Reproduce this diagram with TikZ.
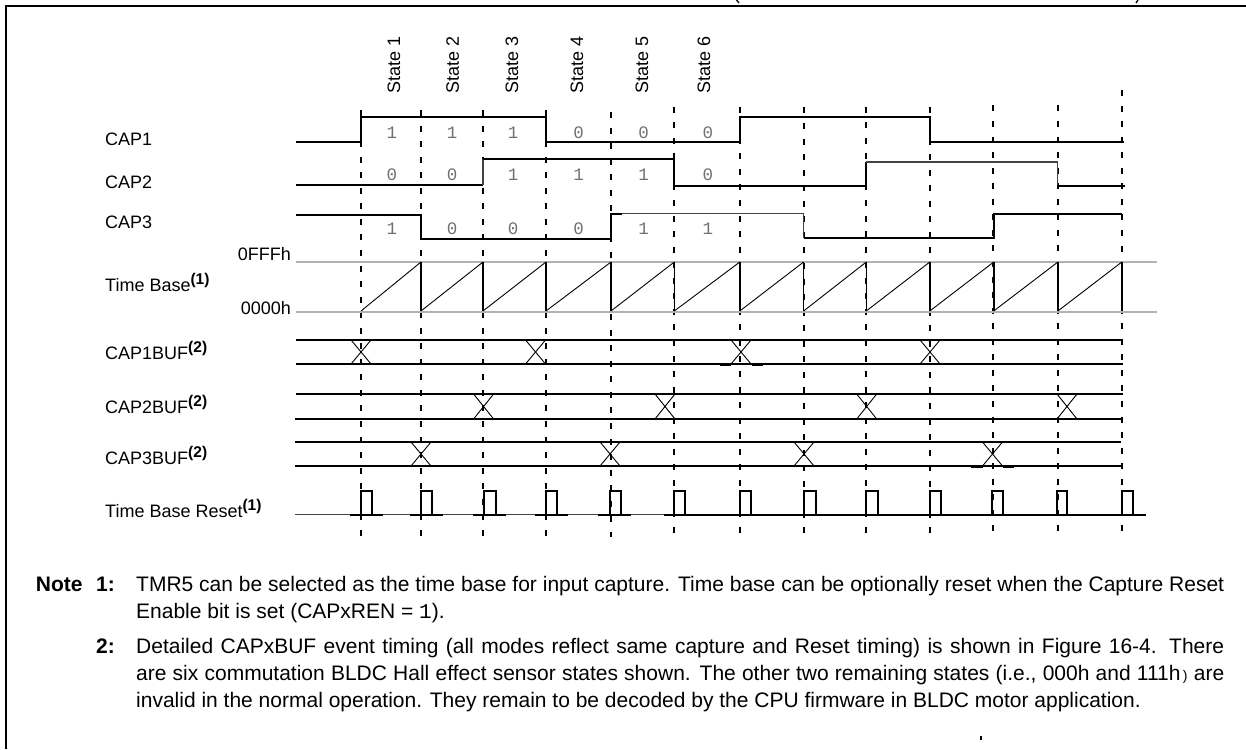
\documentclass[tikz,border=0pt]{standalone}
\usepackage{fontspec}
\setmainfont{Liberation Sans}
\newfontfamily\digitfont{Liberation Mono}
\definecolor{railgrey}{HTML}{B2B2B2}
\definecolor{digitgrey}{HTML}{707070}
\definecolor{thinwave}{HTML}{444444}
\newcommand{\labelsize}{\fontsize{18}{20}\selectfont}
\newcommand{\notesize}{\fontsize{21}{24}\selectfont}
\newcommand{\supnum}[1]{\raisebox{7pt}{\fontsize{15.5}{16}\selectfont\bfseries(#1)}}
\newcommand{\noteline}[1]{\makebox[1088pt][s]{#1}}
\tikzset{
  x=1pt,y=-1pt,
  frameline/.style={line width=2pt,black},
  wave/.style={line width=2pt,black,line cap=butt,line join=miter},
  wavethin/.style={line width=1.2pt,thinwave},
  rail/.style={line width=1.6pt,railgrey},
  ramp/.style={line width=0.9pt,black},
  crossing/.style={line width=0.9pt,black},
  gridline/.style={line width=2pt,black,dash pattern=on 6pt off 9.55pt},
  siglabel/.style={anchor=base west,inner sep=0pt,font=\labelsize},
  levellabel/.style={anchor=base east,inner sep=0pt,font=\labelsize},
  statelabel/.style={anchor=west,rotate=90,inner sep=0pt,font=\labelsize},
  bitlabel/.style={inner sep=0pt,text=digitgrey,font=\digitfont\fontsize{17.5}{18}\selectfont},
  notehead/.style={anchor=base west,inner sep=0pt,font=\notesize\bfseries},
  notetext/.style={anchor=base west,inner sep=0pt,font=\notesize},
}
\begin{document}
\begin{tikzpicture}
\useasboundingbox (0,0) rectangle (1246,749);
% frame
\draw[frameline] (1246,6) -- (6,6) -- (6,749);
\draw[line width=1.3pt] (736.5,0) -- (739,3);
\draw[line width=1.3pt] (1136,3) -- (1138,0);
\draw[line width=1.6pt] (981,736) -- (981,740);
% vertical grid
\foreach \gx/\gy in {361/110,421/110,483/110,546/110,611/112,674.3/106.7,739.8/106.7,803.6/107.5,866.3/106.7,929.8/107.5,993/105.5,1057.9/105.5,1121.8/90}
  \draw[gridline] (\gx,\gy) -- (\gx,537);
% state labels
\foreach \i/\sx in {1/394,2/452.7,3/512,4/577,5/642,6/704}
  \node[statelabel] (state\i) at (\sx,94) {State \i};
% signal labels
\node[siglabel] (cap1) at (105,145.5) {CAP1};
\node[siglabel] (cap2) at (105,188) {CAP2};
\node[siglabel] (cap3) at (105,228.5) {CAP3};
\node[levellabel] (fff) at (291,260) {0FFFh};
\node[levellabel] (zero) at (291,314) {0000h};
\node[siglabel] (tb) at (105,291.7) {Time Base\supnum{1}};
\node[siglabel] (buf1) at (105,359.3) {CAP1BUF\supnum{2}};
\node[siglabel] (buf2) at (105,413) {CAP2BUF\supnum{2}};
\node[siglabel] (buf3) at (105,464.5) {CAP3BUF\supnum{2}};
\node[siglabel] (tbr) at (105,517.5) {Time Base Reset\supnum{1}};
% CAP1
\draw[wave] (296,142) -- (361,142) -- (361,117) -- (546,117) -- (546,142) -- (739.8,142) -- (739.8,117) -- (929.8,117) -- (929.8,142) -- (1123.5,142);
% CAP2
\draw[wave] (296,184.7) -- (483,184.7);
\draw[wavethin] (483,184.7) -- (483,159);
\draw[wave] (483,159) -- (674.3,159) -- (674.3,186) -- (866.3,186) -- (866.3,162);
\draw[wavethin] (866.3,162) -- (1057.4,162) -- (1057.4,186);
\draw[wave] (1057.4,186) -- (1125,186);
% CAP3
\draw[wave] (296,215) -- (421,215) -- (421,238.7) -- (611,238.7) -- (611,213.7) -- (622,213.7);
\draw[wavethin] (622,213.7) -- (803.6,213.7) -- (803.6,238);
\draw[wave] (803.6,238) -- (993.7,238) -- (993.7,213.7) -- (1122,213.7);
% time base rails
\draw[rail] (296,261.7) -- (1157,261.7);
\draw[rail] (296,311.7) -- (1157,311.7);
% sawtooth
\foreach \a/\b in {361/421,421/483,483/546,546/611,611/674.3,674.3/739.8,739.8/803.6,803.6/866.3,866.3/929.8,929.8/993.7,993.7/1057.9,1057.9/1121.8}{
  \draw[ramp] (\a,311) -- (\b,262);
  \draw[line width=1.6pt] (\b,262) -- (\b,311);
}
% buffers
\draw[wave] (296,339.7) -- (1122,339.7);
\draw[wave] (296,364) -- (1123,364);
\draw[wave] (296,393.7) -- (1123,393.7);
\draw[wave] (294.5,419) -- (1123,419);
\draw[wave] (295,442) -- (1121,442);
\draw[wave] (295,466) -- (1121,466);
\foreach \xc in {361,535.5,741,930}{
  \draw[crossing] (\xc-10,340) -- (\xc+10,364);
  \draw[crossing] (\xc+10,340) -- (\xc-10,364);
}
\foreach \xc in {483.6,665,866.7,1067}{
  \draw[crossing] (\xc-10,394) -- (\xc+10,419);
  \draw[crossing] (\xc+10,394) -- (\xc-10,419);
}
\foreach \xc in {421,610,804,992.5}{
  \draw[crossing] (\xc-10,442) -- (\xc+10,466);
  \draw[crossing] (\xc+10,442) -- (\xc-10,466);
}
\draw[wave] (720,365.3) -- (731,365.3) (752,365.3) -- (762.5,365.3);
\draw[wave] (971,467.3) -- (982.5,467.3) (1002.5,467.3) -- (1014,467.3);
% reset pulses
\draw[line width=1.2pt,thinwave] (295,514.7) -- (664,514.7);
\foreach \p/\q in {350/383,410/443,473/505.5,534.5/568,598/631,664/1146}
  \draw[wave] (\p,514.7) -- (\q,514.7);
\foreach \p/\q in {361/371.7,421/432,484/495.5,546/557,610/620.5,674/685,740/750.5,803.6/815.6,866/877.5,930/941,991.7/1002.5,1057/1067,1122/1132.7}
  \draw[wave] (\p,514.7) -- (\p,491) -- (\q,491) -- (\q,514.7);
% bits
\foreach \bx/\ba/\bb/\bc in {391.8/1/0/1,452/1/0/0,513/1/1/0,578.5/0/1/0,643.5/0/1/1,707.8/0/0/1}{
  \node[bitlabel] (bitA\ba\bx) at (\bx,132.7) {\ba};
  \node[bitlabel] (bitB\bb\bx) at (\bx,175) {\bb};
  \node[bitlabel] (bitC\bc\bx) at (\bx,228.3) {\bc};
}
% notes
\node[notehead] (nhead) at (35.7,591.5) {Note};
\node[notehead] (n1) at (96,591.5) {1:};
\node[notehead] (n2) at (96,653) {2:};
\node[notetext] (l1) at (136,591.5) {\noteline{TMR5 can be selected as the time base for input capture. Time base can be optionally reset when the Capture Reset}};
\node[notetext] (l2) at (136,618.3) {Enable bit is set (CAPxREN = {\digitfont 1}).};
\node[notetext] (l3) at (136,653) {\noteline{Detailed CAPxBUF event timing (all modes reflect same capture and Reset timing) is shown in Figure 16-4. There}};
\node[notetext] (l4) at (136,680) {\noteline{are six commutation BLDC Hall effect sensor states shown. The other two remaining states (i.e., 000h and 111h{\fontsize{14}{14}\selectfont\,)} are}};
\node[notetext] (l5) at (136,707) {invalid in the normal operation. They remain to be decoded by the CPU firmware in BLDC motor application.};
\end{tikzpicture}
\end{document}
